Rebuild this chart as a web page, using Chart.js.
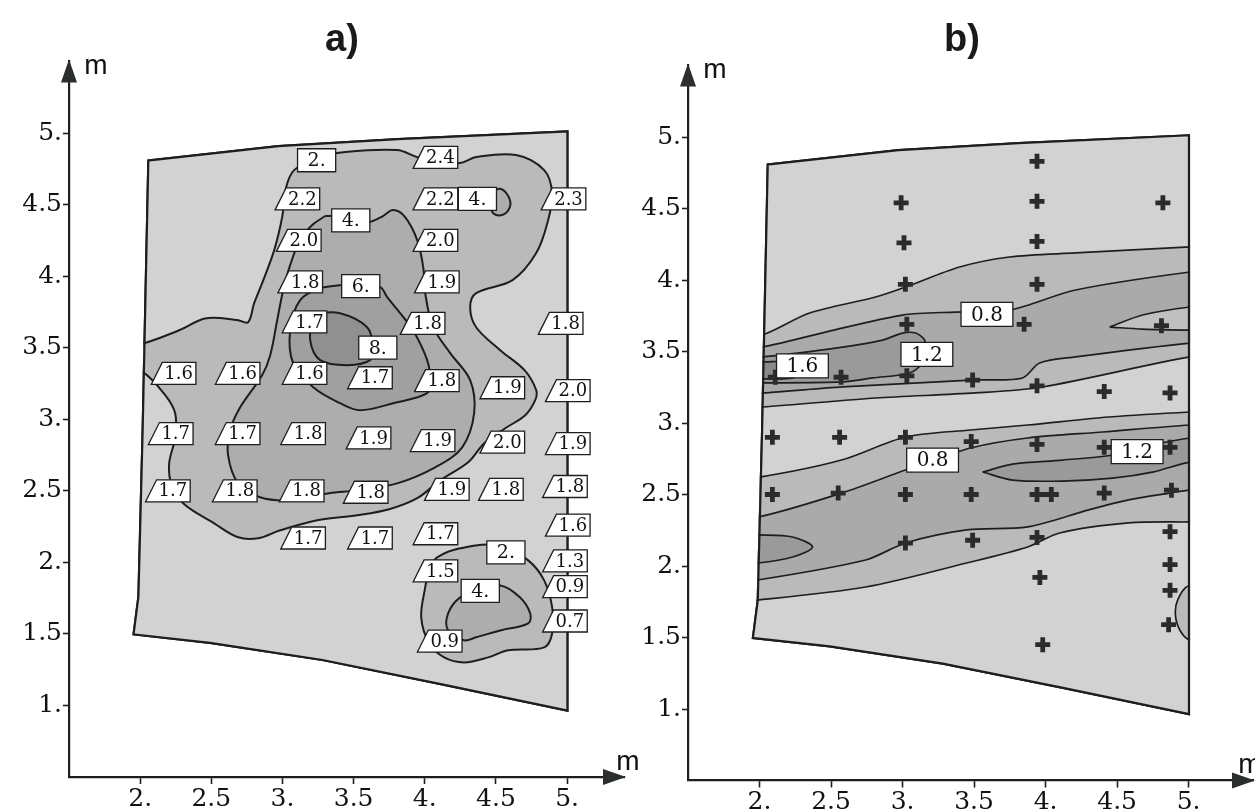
<!DOCTYPE html>
<html>
<head>
<meta charset="utf-8">
<script src="https://cdn.jsdelivr.net/npm/chart.js@4.4.1/dist/chart.umd.min.js"></script>
<style>
  body { margin: 0; background: #fff; width: 1255px; height: 811px; overflow: hidden; position: relative; }
  canvas { position: absolute; top: 0; }
  #chartA { left: 0; }
  #chartB { left: 620px; }
</style>
</head>
<body>
<canvas id="chartA" width="640" height="811"></canvas>
<canvas id="chartB" width="635" height="811"></canvas>
<script>
// Eixos (m)
const xTicks = [2, 2.5, 3, 3.5, 4, 4.5, 5];
const xTickLabels = ["2.", "2.5", "3.", "3.5", "4.", "4.5", "5."];
const yTicks = [1, 1.5, 2, 2.5, 3, 3.5, 4, 4.5, 5];
const yTickLabels = ["1.", "1.5", "2.", "2.5", "3.", "3.5", "4.", "4.5", "5."];

// Contorno da área medida (igual nos dois mapas)
const field = [[2.05,4.815],[2.97,4.916],[3.81,4.965],[5.01,5.02],[5.01,0.955],[4.12,1.14],[3.28,1.31],[2.49,1.43],[1.945,1.49],[1.98,1.76],[2.01,2.93],[2.05,4.815]];

// a) isolinhas
const isoA2 = [[1.93,3.531],[2.024,3.531],[2.274,3.622],[2.464,3.706],[2.689,3.692],[2.759,3.678],[2.801,3.811],[2.857,3.951],[2.942,4.182],[2.998,4.413],[3.026,4.622],[3.082,4.741],[3.237,4.825],[3.441,4.867],[3.806,4.881],[3.947,4.832],[4.108,4.797],[4.249,4.79],[4.361,4.832],[4.642,4.846],[4.839,4.741],[4.895,4.58],[4.867,4.392],[4.783,4.161],[4.617,3.972],[4.361,3.881],[4.319,3.783],[4.361,3.643],[4.53,3.483],[4.701,3.343],[4.783,3.203],[4.776,3.133],[4.706,3.028],[4.565,2.937],[4.418,2.832],[4.305,2.699],[4.108,2.573],[3.947,2.448],[3.75,2.371],[3.525,2.329],[3.244,2.294],[2.984,2.224],[2.829,2.168],[2.689,2.175],[2.52,2.273],[2.302,2.413],[2.218,2.552],[2.204,2.692],[2.246,2.874],[2.246,3.042],[2.176,3.168],[2.02,3.329],[1.93,3.329],[1.93,3.531]];
const isoA4 = [[3.3,4.42],[3.476,4.42],[3.595,4.378],[3.694,4.413],[3.778,4.462],[3.862,4.413],[3.947,4.252],[3.989,4.063],[4.003,3.881],[4.059,3.643],[4.179,3.462],[4.319,3.273],[4.347,3.042],[4.263,2.804],[4.073,2.664],[3.806,2.552],[3.525,2.503],[3.328,2.483],[3.054,2.434],[2.843,2.455],[2.689,2.552],[2.618,2.748],[2.632,2.923],[2.703,3.084],[2.857,3.308],[2.914,3.448],[2.963,3.692],[3.005,3.902],[3.054,4.077],[3.124,4.252],[3.209,4.357],[3.3,4.42]];
const isoA6 = [[3.405,3.937],[3.546,3.937],[3.687,3.923],[3.736,3.853],[3.827,3.741],[3.918,3.622],[4.017,3.413],[4.038,3.273],[4.017,3.182],[3.778,3.112],[3.546,3.063],[3.405,3.112],[3.216,3.224],[3.075,3.392],[3.054,3.622],[3.124,3.832],[3.265,3.916],[3.405,3.937]];
const isoA8 = [[3.216,3.741],[3.405,3.741],[3.595,3.643],[3.637,3.503],[3.616,3.413],[3.455,3.378],[3.265,3.413],[3.195,3.552],[3.216,3.741]];
const isoA4top = [[4.46,4.58],[4.53,4.61],[4.586,4.56],[4.6,4.49],[4.551,4.43],[4.481,4.44],[4.46,4.51],[4.46,4.58]];
const isoA2low = [[4.031,1.965],[4.087,2.035],[4.249,2.098],[4.53,2.119],[4.727,2.014],[4.839,1.874],[4.895,1.685],[4.895,1.503],[4.839,1.406],[4.586,1.385],[4.446,1.336],[4.277,1.301],[4.136,1.336],[4.031,1.434],[3.975,1.615],[4.003,1.825],[4.031,1.965]];
const isoA4low = [[4.361,1.79],[4.53,1.839],[4.67,1.755],[4.741,1.643],[4.727,1.573],[4.53,1.524],[4.361,1.476],[4.277,1.455],[4.164,1.524],[4.164,1.643],[4.249,1.755],[4.361,1.79]];

// a) valores medidos e rótulos das isolinhas
const measuredA = [
  [4.11,4.83,"2.4"],[3.14,4.54,"2.2"],[4.11,4.54,"2.2"],[5.01,4.54,"2.3"],
  [3.15,4.25,"2.0"],[4.11,4.25,"2.0"],[3.16,3.96,"1.8"],[4.12,3.96,"1.9"],
  [3.19,3.68,"1.7"],[4.02,3.67,"1.8"],[4.99,3.67,"1.8"],
  [2.27,3.32,"1.6"],[2.72,3.32,"1.6"],[3.19,3.32,"1.6"],[3.65,3.29,"1.7"],[4.12,3.27,"1.8"],[4.58,3.22,"1.9"],[5.04,3.2,"2.0"],
  [2.25,2.9,"1.7"],[2.72,2.9,"1.7"],[3.18,2.9,"1.8"],[3.64,2.87,"1.9"],[4.09,2.85,"1.9"],[4.58,2.84,"2.0"],[5.04,2.83,"1.9"],
  [2.23,2.5,"1.7"],[2.7,2.5,"1.8"],[3.17,2.5,"1.8"],[3.62,2.49,"1.8"],[4.19,2.51,"1.9"],[4.57,2.51,"1.8"],[5.02,2.53,"1.8"],
  [3.18,2.17,"1.7"],[3.65,2.17,"1.7"],[4.11,2.2,"1.7"],[5.04,2.26,"1.6"],
  [5.02,2.01,"1.3"],[4.11,1.94,"1.5"],[5.02,1.83,"0.9"],[5.02,1.59,"0.7"],[4.14,1.45,"0.9"]
];
const isoLabelsA = [[3.24,4.81,"2."],[4.37,4.54,"4."],[3.48,4.39,"4."],[3.55,3.93,"6."],[3.67,3.5,"8."],[4.57,2.07,"2."],[4.39,1.8,"4."]];

// b) faixas (as pontas fora da área são cortadas pelo contorno)
const bandB1 = [[1.85,3.615],[2.018,3.615],[2.35,3.769],[2.811,3.881],[3.021,3.951],[3.399,4.091],[3.748,4.161],[4.21,4.189],[5.01,4.231],[5.2,4.235],[5.2,3.462],[5.01,3.462],[3.979,3.252],[3.51,3.21],[2.811,3.175],[2.018,3.112],[1.85,3.112],[1.85,3.615]];
const bandB2 = [[1.85,3.531],[2.018,3.531],[2.462,3.636],[3.0,3.755],[3.371,3.776],[3.748,3.79],[4.21,3.93],[5.01,4.056],[5.2,4.06],[5.2,3.559],[5.01,3.559],[4.21,3.462],[3.958,3.42],[3.839,3.315],[3.51,3.301],[2.58,3.252],[2.018,3.21],[1.85,3.21],[1.85,3.531]];
const lobeB = [[1.85,3.462],[2.018,3.462],[2.58,3.531],[2.86,3.58],[3.0,3.629],[3.091,3.629],[3.154,3.58],[3.161,3.49],[3.14,3.42],[3.049,3.35],[2.79,3.315],[2.58,3.287],[2.018,3.28],[1.85,3.28],[1.85,3.462]];
const lobeInnerB = [[1.85,3.427],[2.018,3.427],[2.231,3.427],[2.301,3.371],[2.231,3.315],[2.018,3.308],[1.85,3.308],[1.85,3.427]];
const wedgeB = [[4.448,3.671],[4.678,3.755],[5.01,3.811],[5.2,3.815],[5.2,3.65],[5.01,3.65],[4.678,3.657],[4.448,3.671]];
const bandB3 = [[1.85,2.622],[2.002,2.622],[2.573,2.741],[3.021,2.902],[3.476,2.951],[3.874,2.986],[4.441,3.042],[5.01,3.077],[5.2,3.08],[5.2,2.308],[5.01,2.308],[4.58,2.301],[4.098,2.231],[3.874,2.133],[3.448,2.021],[2.741,1.853],[1.98,1.762],[1.85,1.762],[1.85,2.622]];
const bandB4 = [[1.85,2.343],[1.995,2.343],[2.573,2.51],[3.021,2.671],[3.476,2.825],[3.874,2.895],[4.399,2.937],[5.01,2.986],[5.2,2.99],[5.2,2.531],[5.01,2.531],[4.867,2.51],[4.58,2.462],[4.301,2.392],[3.874,2.273],[3.448,2.252],[3.021,2.161],[2.741,2.042],[1.985,1.902],[1.85,1.902],[1.85,2.343]];
const lensB = [[3.559,2.657],[3.769,2.713],[4.119,2.741],[4.469,2.776],[4.748,2.846],[5.01,2.895],[5.2,2.9],[5.2,2.727],[5.01,2.727],[4.748,2.657],[4.469,2.615],[4.119,2.594],[3.769,2.601],[3.559,2.657]];
const ovalB = [[1.85,2.217],[1.992,2.217],[2.231,2.203],[2.371,2.133],[2.231,2.063],[1.99,2.021],[1.85,2.021],[1.85,2.217]];
const edgeB = [[5.2,1.867],[5.01,1.867],[4.923,1.762],[4.909,1.643],[4.951,1.531],[5.01,1.483],[5.2,1.483],[5.2,1.867]];

// b) pontos de amostragem e rótulos
const samplesB = [
  [3.94,4.83],[2.99,4.54],[3.94,4.55],[4.82,4.54],[3.01,4.26],[3.94,4.27],[3.02,3.97],[3.94,3.97],
  [3.03,3.69],[3.85,3.69],[4.81,3.68],
  [2.11,3.32],[2.57,3.32],[3.03,3.33],[3.49,3.3],[3.94,3.26],[4.41,3.22],[4.87,3.21],
  [2.09,2.9],[2.56,2.9],[3.02,2.9],[3.48,2.87],[3.94,2.85],[4.41,2.83],[4.87,2.83],
  [2.09,2.5],[2.55,2.51],[3.02,2.5],[3.48,2.5],[3.94,2.5],[4.04,2.5],[4.41,2.51],[4.88,2.53],
  [3.02,2.16],[3.49,2.18],[3.94,2.2],[4.87,2.24],[4.87,2.01],[3.96,1.92],[4.87,1.83],[4.86,1.59],[3.98,1.45]
];
const isoLabelsB = [[3.59,3.76,"0.8"],[3.17,3.48,"1.2"],[2.3,3.4,"1.6"],[3.21,2.74,"0.8"],[4.64,2.8,"1.2"]];

const LINE = "#1e1e1e";

function pts(arr) {
  return arr.map(p => ({ x: p[0], y: p[1] }));
}

// Polígono preenchido
function area(data, color, tension, width) {
  return {
    type: "scatter",
    data: pts(data),
    showLine: true,
    fill: "shape",
    backgroundColor: color,
    borderColor: LINE,
    borderWidth: width || 2,
    pointRadius: 0,
    tension: tension
  };
}

// Contorno (metade fica dentro do recorte)
function outline(data) {
  return {
    type: "scatter",
    data: pts(data),
    showLine: true,
    fill: false,
    borderColor: LINE,
    borderWidth: 4.4,
    pointRadius: 0,
    tension: 0
  };
}

// Recorta tudo pelo contorno da área
const fieldClip = {
  id: "fieldClip",
  beforeDatasetsDraw(chart) {
    const ctx = chart.ctx;
    const sx = chart.scales.x, sy = chart.scales.y;
    ctx.save();
    ctx.beginPath();
    field.forEach((p, i) => {
      const X = sx.getPixelForValue(p[0]), Y = sy.getPixelForValue(p[1]);
      if (i === 0) ctx.moveTo(X, Y); else ctx.lineTo(X, Y);
    });
    ctx.closePath();
    ctx.clip();
  },
  afterDatasetsDraw(chart) {
    chart.ctx.restore();
  }
};

// Rótulo com caixa (reta ou com lado inclinado)
function drawTag(ctx, px, py, text, slanted, size) {
  ctx.font = size + "px 'DejaVu Serif'";
  const w = ctx.measureText(text).width;
  const h = size + 4;
  const top = py - h / 2, bottom = py + h / 2;
  ctx.beginPath();
  if (slanted) {
    const left = px - w / 2 - 2;
    const right = px + w / 2 + 3;
    ctx.moveTo(left - 11, bottom);
    ctx.lineTo(left, top);
    ctx.lineTo(right, top);
    ctx.lineTo(right, bottom);
  } else {
    const left = px - w / 2 - 10;
    const right = px + w / 2 + 10;
    ctx.moveTo(left, bottom);
    ctx.lineTo(left, top);
    ctx.lineTo(right, top);
    ctx.lineTo(right, bottom);
  }
  ctx.closePath();
  ctx.fillStyle = "#fff";
  ctx.fill();
  ctx.lineWidth = 1.3;
  ctx.strokeStyle = LINE;
  ctx.stroke();
  ctx.fillStyle = "#111";
  ctx.textAlign = "center";
  ctx.textBaseline = "middle";
  ctx.fillText(text, px, py + 1);
}

// Setas, "m", rótulos e título
function decorPlugin(title, tags, mRight) {
  return {
    id: "decor",
    afterDatasetsDraw(chart) {
      const ctx = chart.ctx;
      const sx = chart.scales.x, sy = chart.scales.y;
      ctx.save();
      tags.forEach(t => drawTag(ctx, sx.getPixelForValue(t.x), sy.getPixelForValue(t.y), t.text, t.slanted, t.size));
      ctx.restore();
    },
    afterDraw(chart) {
      const ctx = chart.ctx;
      const a = chart.chartArea;
      ctx.save();
      ctx.fillStyle = "#2a2f2d";
      // seta vertical
      ctx.beginPath();
      ctx.moveTo(a.left, a.top - 2);
      ctx.lineTo(a.left - 8, a.top + 21);
      ctx.lineTo(a.left + 8, a.top + 21);
      ctx.closePath();
      ctx.fill();
      // seta horizontal
      ctx.beginPath();
      ctx.moveTo(a.right + 2, a.bottom);
      ctx.lineTo(a.right - 21, a.bottom - 8);
      ctx.lineTo(a.right - 21, a.bottom + 8);
      ctx.closePath();
      ctx.fill();

      ctx.fillStyle = "#111";
      ctx.font = "28px 'Liberation Sans'";
      ctx.textAlign = "center";
      ctx.textBaseline = "middle";
      ctx.fillText("m", a.left + 27, a.top + 5);
      ctx.fillText("m", a.right + mRight, a.bottom - 15);

      ctx.fillStyle = "#1a1a1a";
      ctx.font = "bold 38px 'Liberation Sans'";
      ctx.fillText(title, 342, 41);
      ctx.restore();
    }
  };
}

function scalesFor(xMax, xHeight) {
  return {
    x: {
      type: "linear",
      min: 1.5,
      max: xMax,
      afterBuildTicks: s => { s.ticks = xTicks.map(v => ({ value: v })); },
      afterFit: s => { s.height = xHeight; s.paddingLeft = 0; s.paddingRight = 0; },
      ticks: {
        autoSkip: false,
        maxRotation: 0,
        padding: 0,
        color: "#111",
        font: { family: "'DejaVu Serif'", size: 25 },
        callback: (v, i) => xTickLabels[i]
      },
      grid: { drawOnChartArea: false, drawTicks: true, tickLength: 7, tickWidth: 1.6, tickColor: LINE },
      border: { display: true, color: LINE, width: 2.2 }
    },
    y: {
      type: "linear",
      min: 0.5,
      max: 5.5,
      afterBuildTicks: s => { s.ticks = yTicks.map(v => ({ value: v })); },
      afterFit: s => { s.width = 62; s.paddingTop = 0; s.paddingBottom = 0; },
      ticks: {
        autoSkip: false,
        padding: 1,
        color: "#111",
        font: { family: "'DejaVu Serif'", size: 25 },
        callback: (v, i) => yTickLabels[i]
      },
      grid: { drawOnChartArea: false, drawTicks: true, tickLength: 6, tickWidth: 1.6, tickColor: LINE },
      border: { display: true, color: LINE, width: 2.2 }
    }
  };
}

function ordered(list) {
  list.forEach((d, i) => { d.order = 100 - i; });
  return list;
}

// Mapa a)
const tagsA = measuredA.map(m => ({ x: m[0], y: m[1], text: m[2], slanted: true, size: 18 }))
  .concat(isoLabelsA.map(m => ({ x: m[0], y: m[1], text: m[2], slanted: false, size: 19 })));

new Chart(document.getElementById("chartA"), {
  type: "scatter",
  data: {
    datasets: ordered([
      area(field, "#d2d2d2", 0),
      area(isoA2, "#bababa", 0.35),
      area(isoA4, "#adadad", 0.35),
      area(isoA6, "#a0a0a0", 0.35),
      area(isoA8, "#909090", 0.35),
      area(isoA4top, "#adadad", 0.4),
      area(isoA2low, "#bababa", 0.35),
      area(isoA4low, "#adadad", 0.35),
      outline(field)
    ])
  },
  options: {
    responsive: false,
    animation: false,
    events: [],
    layout: { autoPadding: false, padding: { left: 7, right: 16, top: 61.5, bottom: 0 } },
    plugins: { legend: { display: false }, tooltip: { enabled: false } },
    scales: scalesFor(5.4, 34)
  },
  plugins: [fieldClip, decorPlugin("a)", tagsA, 4)]
});

// Mapa b)
const tagsB = isoLabelsB.map(m => ({ x: m[0], y: m[1], text: m[2], slanted: false, size: 20 }));

const samplesDataset = {
  type: "scatter",
  data: pts(samplesB),
  pointStyle: "cross",
  pointRadius: 7.5,
  pointBorderWidth: 4.8,
  pointBorderColor: "#2b2b2b",
  showLine: false
};

new Chart(document.getElementById("chartB"), {
  type: "scatter",
  data: {
    datasets: ordered([
      area(field, "#d2d2d2", 0),
      area(bandB1, "#bababa", 0.3, 1.7),
      area(bandB2, "#aaaaaa", 0.3, 1.7),
      area(lobeB, "#9a9a9a", 0.3, 1.7),
      area(lobeInnerB, "#8a8a8a", 0.3, 1.7),
      area(wedgeB, "#c0c0c0", 0.3, 1.7),
      area(bandB3, "#bababa", 0.3, 1.7),
      area(bandB4, "#aaaaaa", 0.3, 1.7),
      area(lensB, "#9a9a9a", 0.3, 1.7),
      area(ovalB, "#9a9a9a", 0.3, 1.7),
      area(edgeB, "#bababa", 0.4, 1.7),
      outline(field),
      samplesDataset
    ])
  },
  options: {
    responsive: false,
    animation: false,
    events: [],
    layout: { autoPadding: false, padding: { left: 6, right: 2, top: 65.5, bottom: 0.5 } },
    plugins: { legend: { display: false }, tooltip: { enabled: false } },
    scales: scalesFor(5.45, 30)
  },
  plugins: [fieldClip, decorPlugin("b)", tagsB, -3)]
});
</script>
</body>
</html>
